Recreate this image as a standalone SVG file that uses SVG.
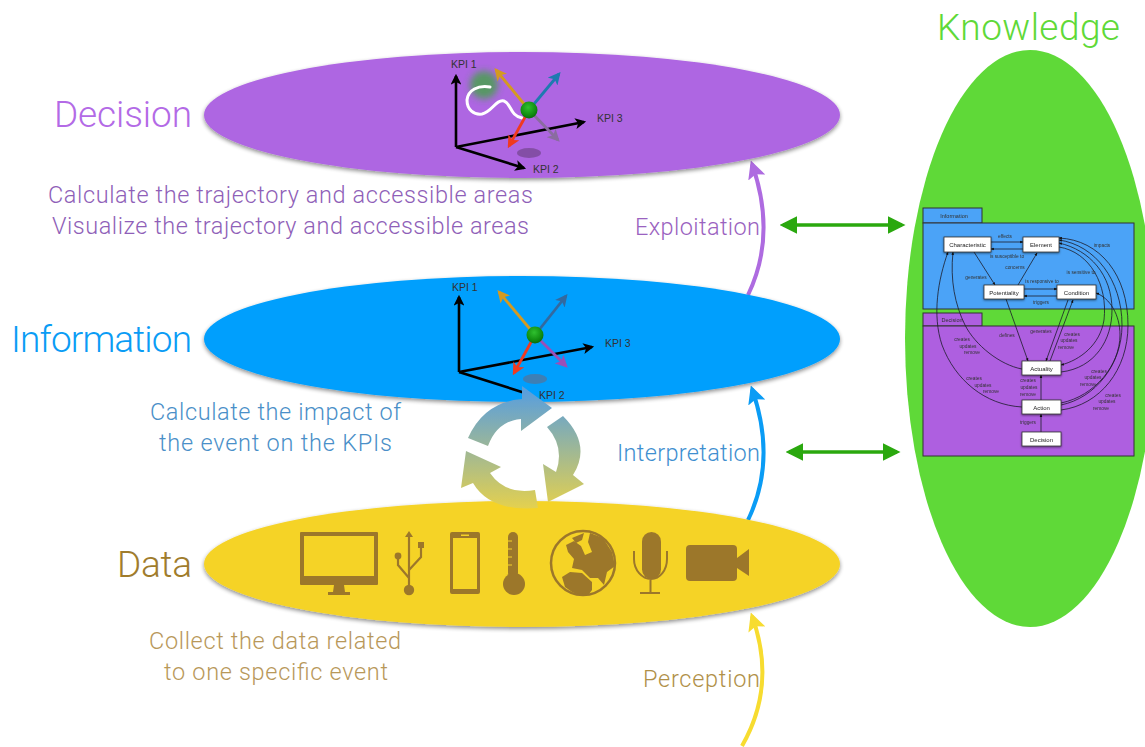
<svg xmlns="http://www.w3.org/2000/svg" width="1145" height="747" viewBox="0 0 1145 747">
<style>
text{font-family:Roboto,"Liberation Sans",sans-serif;font-weight:300}
.t{font-size:37px}.s{font-size:23.500px}.l{font-size:23.500px}
.kpi{font-size:10.500px;fill:#333;font-weight:400;font-family:"Liberation Sans",sans-serif}
.ax{stroke:#000;stroke-width:2.600;fill:none;marker-end:url(#mk)}
.v{stroke-width:2.800;fill:none}
.ic{fill:#9c772c}.ics{stroke:#9c772c;fill:none}
.n{fill:#fff;stroke:#333;stroke-width:.8;filter:url(#ns)}
.nt{font-size:6px;fill:#222;text-anchor:middle;font-family:"Liberation Sans",sans-serif;font-weight:400}
.et{font-size:4.800px;fill:#333;text-anchor:middle;font-family:"Liberation Sans",sans-serif;font-weight:400}
.e{fill:none;stroke:#1c1c2a;stroke-width:.8;marker-end:url(#sm)}
.panel{stroke:#333;stroke-width:1}
</style>
<defs>
<filter id="sh" x="-5%" y="-10%" width="110%" height="125%"><feGaussianBlur in="SourceAlpha" stdDeviation="2"/><feOffset dy="2"/><feComponentTransfer><feFuncA type="linear" slope=".45"/></feComponentTransfer><feMerge><feMergeNode/><feMergeNode in="SourceGraphic"/></feMerge></filter>
<filter id="ns" x="-20%" y="-30%" width="140%" height="170%"><feDropShadow dx="0" dy="1" stdDeviation=".8" flood-opacity=".5"/></filter>
<filter id="b" x="-5%" y="-5%" width="110%" height="110%"><feGaussianBlur stdDeviation=".45"/></filter>
<filter id="b2" x="-50%" y="-50%" width="200%" height="200%"><feGaussianBlur stdDeviation="3.500"/></filter>
<marker id="mk" viewBox="0 0 10 10" refX="8" refY="5" markerWidth="4.200" markerHeight="4.200" orient="auto-start-reverse"><path d="M0 0L10 5L0 10L2.500 5Z" fill="#000"/></marker>
<marker id="sm" viewBox="0 0 10 10" refX="9" refY="5" markerWidth="4" markerHeight="4" orient="auto"><path d="M0 1L10 5L0 9Z" fill="#111"/></marker>
<marker id="mo" viewBox="0 0 10 10" refX="8" refY="5" markerWidth="4.400" markerHeight="4.400" orient="auto"><path d="M0 0L10 5L0 10L2.500 5Z" fill="context-stroke"/></marker>
<marker id="ga" viewBox="0 0 10 10" refX="8" refY="5" markerWidth="5" markerHeight="5" orient="auto-start-reverse"><path d="M0 0L10 5L0 10Z" fill="#2aa80e"/></marker>
<marker id="c1" viewBox="0 0 10 10" refX="8" refY="5" markerWidth="4.500" markerHeight="5" orient="auto"><path d="M0 0L10 5L0 10L2 5Z" fill="#ae6be0"/></marker>
<marker id="c2" viewBox="0 0 10 10" refX="8" refY="5" markerWidth="4.500" markerHeight="5" orient="auto"><path d="M0 0L10 5L0 10L2 5Z" fill="#0a9cf5"/></marker>
<marker id="c3" viewBox="0 0 10 10" refX="8" refY="5" markerWidth="4.500" markerHeight="5" orient="auto"><path d="M0 0L10 5L0 10L2 5Z" fill="#f7dc30"/></marker>
<linearGradient id="cy" gradientUnits="userSpaceOnUse" x1="0" y1="392" x2="0" y2="512"><stop offset="0" stop-color="#5a9fdc"/><stop offset="1" stop-color="#e8d24a"/></linearGradient>
<radialGradient id="ball" cx=".45" cy=".35" r=".7"><stop offset="0" stop-color="#2fc02f"/><stop offset=".7" stop-color="#0f8a0f"/><stop offset="1" stop-color="#0a5f0a"/></radialGradient>
<clipPath id="gl"><circle cx="583" cy="563" r="32"/></clipPath>
</defs>
<rect width="1145" height="747" fill="#fff"/>

<g id="knowledge">
<ellipse cx="1030" cy="338.500" rx="125" ry="288.500" fill="#5fd938"/>
<text x="937" y="40" class="t" textLength="183" fill="#5fd938">Knowledge</text>
</g>

<g id="connectors">
<path d="M748 295Q777 235 752 164" stroke="#ae6be0" stroke-width="4" fill="none" marker-end="url(#c1)"/>
<path d="M748 520Q777 460 752 389" stroke="#0a9cf5" stroke-width="4" fill="none" marker-end="url(#c2)"/>
<path d="M742 746Q777 685 752 616" stroke="#f7dc30" stroke-width="4" fill="none" marker-end="url(#c3)"/>
<path d="M783 225H902" stroke="#2aa80e" stroke-width="3.500" fill="none" marker-start="url(#ga)" marker-end="url(#ga)"/>
<path d="M789 452H897" stroke="#2aa80e" stroke-width="3.500" fill="none" marker-start="url(#ga)" marker-end="url(#ga)"/>
</g>
<text x="635" y="235" class="l" textLength="125" fill="#9a62c0">Exploitation</text>
<text x="617" y="461" class="l" textLength="143" fill="#3f8fd0">Interpretation</text>
<text x="643" y="687" class="l" textLength="117" fill="#b09048">Perception</text>

<g id="decision">
<ellipse cx="522" cy="115" rx="318" ry="63" fill="#ae66e2" filter="url(#sh)"/>
<text x="54" y="127" class="t" textLength="138" fill="#b36ae6">Decision</text>
<text x="48" y="203" class="s" textLength="485" fill="#8f5fb8">Calculate the trajectory and accessible areas</text>
<text x="52" y="234" class="s" textLength="477" fill="#8f5fb8">Visualize the trajectory and accessible areas</text>
<circle cx="484" cy="85" r="14" fill="#3aa83a" opacity=".75" filter="url(#b2)"/>
<ellipse cx="529" cy="153" rx="12" ry="5" fill="#7a4a98" opacity=".8" filter="url(#b)"/>
<path class="ax" d="M456 147V76"/><path class="ax" d="M456 147L584 122"/><path class="ax" d="M456 147L524 168"/>
<path d="M490 87C478 85 468 90 467 100C467 110 474 115 482 114C492 112 496 99 504 101C511 103 510 116 522 118" stroke="#fff" stroke-width="3" fill="none" stroke-linecap="round"/>
<path class="v" stroke="#d49a20" marker-end="url(#mo)" d="M529 110L496 70"/>
<path class="v" stroke="#1e7ab0" marker-end="url(#mo)" d="M529 110L559 74"/>
<path class="v" stroke="#8a6ca0" marker-end="url(#mo)" d="M529 110L558 140"/>
<path class="v" stroke="#f03a20" marker-end="url(#mo)" d="M529 110L509 146"/>
<circle cx="529" cy="110" r="8.500" fill="url(#ball)"/>
<text x="451" y="68" class="kpi">KPI 1</text><text x="597" y="122" class="kpi">KPI 3</text><text x="533" y="173" class="kpi">KPI 2</text>
</g>

<g id="information">
<ellipse cx="522" cy="339" rx="318" ry="63" fill="#009ffd" filter="url(#sh)"/>
<text x="11" y="352" class="t" textLength="181" fill="#0a9cf5">Information</text>
<text x="150" y="420" class="s" textLength="251" fill="#4a8fc8">Calculate the impact of</text>
<text x="159" y="451" class="s" textLength="233" fill="#4a8fc8">the event on the KPIs</text>
<ellipse cx="535" cy="379" rx="12" ry="5" fill="#3d7fb5" filter="url(#b)"/>
<path class="ax" d="M459 372V297"/><path class="ax" d="M459 372L592 347"/><path d="M459 372L525 393" stroke="#000" stroke-width="2.600" fill="none"/>
<path class="v" stroke="#d49a20" marker-end="url(#mo)" d="M535 335L499 292"/>
<path class="v" stroke="#33699f" marker-end="url(#mo)" d="M535 335L566 296"/>
<path class="v" stroke="#9a4fb8" marker-end="url(#mo)" d="M535 335L566 366"/>
<path class="v" stroke="#f03a20" marker-end="url(#mo)" d="M535 335L514 373"/>
<circle cx="535" cy="335" r="8.500" fill="url(#ball)"/>
<text x="452" y="291" class="kpi">KPI 1</text><text x="605" y="347" class="kpi">KPI 3</text><text x="539" y="399" class="kpi">KPI 2</text>
</g>

<g id="data">
<ellipse cx="522" cy="564" rx="318" ry="63" fill="#f5d327" filter="url(#sh)"/>
<text x="117" y="577" class="t" textLength="75" fill="#a07c2c">Data</text>
<text x="149" y="649" class="s" textLength="252" fill="#b8985a">Collect the data related</text>
<text x="164" y="680" class="s" textLength="224" fill="#b8985a">to one specific event</text>
<g filter="url(#b)">
<path class="ic" fill-rule="evenodd" d="M301 532H377Q378 532 378 533V584Q378 585 377 585H301Q300 585 300 584V533Q300 532 301 532ZM304 536V576H374V536Z"/>
<path class="ic" d="M334 585H344L345 592H350V595H328V592H333Z"/>
<path class="ics" stroke-width="2.200" d="M409 534V586M409 578L398 565V558M409 570L421 557V548"/>
<path class="ic" d="M409 531L413 537H405Z"/><circle class="ic" cx="409" cy="590" r="5.200"/><circle class="ic" cx="398" cy="556" r="3.400"/><rect class="ic" x="418" y="542" width="6" height="6"/>
<path class="ic" fill-rule="evenodd" d="M452 532H478Q480 532 480 534V592Q480 594 478 594H452Q450 594 450 592V534Q450 532 452 532ZM453 538V589H477V538ZM461 534.500V536H469V534.500Z"/>
<rect class="ic" x="508" y="532" width="10" height="46" rx="5"/><circle class="ic" cx="514" cy="584" r="11"/>
<path stroke="#f5d327" stroke-width="1" d="M508 541H512M508 549H512M508 557H512M508 565H512"/>
<g clip-path="url(#gl)"><path class="ic" d="M590 533L603 538L612 552L615 566L607 572L604 585L598 578L590 578L582 570L572 568L574 559L568 552L566 545L574 541L581 546L585 555L592 552L588 542Z"/><path class="ic" d="M562 577L570 572L582 573L592 582L592 590L586 598L572 592L565 587Z"/><path class="ic" d="M572 538L584 533L582 540L576 543Z"/></g>
<circle class="ics" stroke-width="2.500" cx="583" cy="563" r="32"/>
<rect class="ic" x="642" y="532" width="19" height="47" rx="9.500"/>
<path class="ics" stroke-width="2" d="M634 551V559C634 570 642 579 651 579C660 579 667 570 667 559V551M650.500 579V592M640 593H660"/>
<rect class="ic" x="686" y="545" width="51" height="36" rx="4"/><path class="ic" d="M737 558L749 549V576L737 568Z"/>
</g>
</g>

<g id="cycle" filter="url(#b)">
<path fill="url(#cy)" d="M468 438Q484 402 522 399L522 386L552 408L521 431L521 419Q497 421 488 446Z"/>
<path fill="url(#cy)" d="M563 416Q592 445 573 475L584 484L548 502L543 464L556 472Q565 447 547 427Z"/>
<path fill="url(#cy)" d="M466 451L501 467L490 473Q505 495 535 490L538 508Q490 512 473 483L461 488Z"/>
</g>

<g id="knowledge-model" filter="url(#b)">
<g id="pkg-information">
<rect class="panel" x="923" y="208" width="59" height="15" fill="#4ba3f7"/>
<rect class="panel" x="923" y="223" width="211" height="86" fill="#4ba3f7"/>
<text x="954" y="218" class="et" style="font-size:5.500px">Information</text>
</g>
<g id="pkg-decision">
<rect class="panel" x="923" y="313" width="59" height="13" fill="#ae5fe0"/>
<rect class="panel" x="923" y="326" width="211" height="130" fill="#ae5fe0"/>
<text x="952" y="322" class="et" style="font-size:5.500px">Decision</text>
</g>
<g id="model-edges">
<path class="e" d="M991 242H1023"/><path class="e" d="M1023 249H991"/>
<path class="e" d="M974 252L995 285"/><path class="e" d="M1018 285L1037 253"/>
<path class="e" d="M1024 289H1057"/><path class="e" d="M1057 296H1024"/>
<path class="e" d="M1006 299L1028 361"/>
<path class="e" d="M1068 300L1046 361"/><path class="e" d="M1050 361L1073 300"/>
<path class="e" d="M1022 369C1000 365 975 345 965 325C955 305 950 280 953 252"/>
<path class="e" d="M1022 407C985 405 955 380 942 345C932 315 938 280 948 252"/>
<path class="e" d="M1059 247C1090 252 1108 285 1104 320C1100 345 1080 360 1061 365"/>
<path class="e" d="M1061 372C1095 368 1112 340 1112 310C1112 275 1090 250 1059 243"/>
<path class="e" d="M1061 405C1095 398 1122 365 1122 325C1122 280 1095 245 1059 240"/>
<path class="e" d="M1061 410C1100 405 1128 370 1128 325C1128 275 1100 240 1059 238"/>
<path class="e" d="M1061 403C1095 396 1120 365 1120 335C1120 315 1110 298 1096 293"/>
<path class="e" d="M1041 400V375"/><path class="e" d="M1041 432V414"/>
</g>
<g id="model-labels">
<text x="1005" y="238" class="et">effects</text><text x="1007" y="258" class="et">is susceptible to</text>
<text x="976" y="279" class="et">generates</text><text x="1015" y="269" class="et">concerns</text>
<text x="1042" y="283" class="et">is responsive to</text><text x="1041" y="304" class="et">triggers</text>
<text x="1081" y="274" class="et">is sensitive to</text><text x="1102" y="247" class="et">impacts</text>
<text x="1007" y="337" class="et">defines</text><text x="1041" y="333" class="et">generates</text>
<text x="1072" y="336" class="et">creates</text><text x="1069" y="342" class="et">updates</text><text x="1066" y="349" class="et">remove</text>
<text x="962" y="341" class="et">creates</text><text x="968" y="348" class="et">updates</text><text x="972" y="354" class="et">remove</text>
<text x="974" y="380" class="et">creates</text><text x="983" y="387" class="et">updates</text><text x="991" y="393" class="et">remove</text>
<text x="1028" y="382" class="et">creates</text><text x="1029" y="389" class="et">updates</text><text x="1028" y="396" class="et">remove</text>
<text x="1099" y="373" class="et">creates</text><text x="1093" y="379" class="et">updates</text><text x="1088" y="386" class="et">remove</text>
<text x="1113" y="397" class="et">creates</text><text x="1107" y="403" class="et">updates</text><text x="1101" y="410" class="et">remove</text>
<text x="1028" y="424" class="et">triggers</text>
</g>
<g id="m-characteristic"><rect class="n" x="944" y="237" width="47" height="15"/><text x="967.500" y="247" class="nt">Characteristic</text></g>
<g id="m-element"><rect class="n" x="1023" y="237" width="36" height="15"/><text x="1041" y="247" class="nt">Element</text></g>
<g id="m-potentiality"><rect class="n" x="984" y="285" width="40" height="14"/><text x="1004" y="294.500" class="nt">Potentiality</text></g>
<g id="m-condition"><rect class="n" x="1057" y="285" width="39" height="14"/><text x="1076.500" y="294.500" class="nt">Condition</text></g>
<g id="m-actuality"><rect class="n" x="1022" y="361" width="39" height="14"/><text x="1041.500" y="370.500" class="nt">Actuality</text></g>
<g id="m-action"><rect class="n" x="1022" y="400" width="39" height="14"/><text x="1041.500" y="409.500" class="nt">Action</text></g>
<g id="m-decision"><rect class="n" x="1022" y="432" width="39" height="14"/><text x="1041.500" y="441.500" class="nt">Decision</text></g>
</g>
</svg>
